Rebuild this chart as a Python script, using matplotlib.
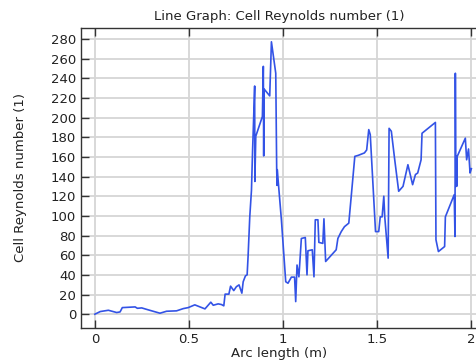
import matplotlib.pyplot as plt
import numpy as np

# arc length (m) and cell Reynolds number along the cut line
arc = [0.0, 0.029, 0.072, 0.116, 0.134, 0.146, 0.214, 0.226, 0.249, 0.284,
       0.346, 0.381, 0.434, 0.470, 0.496, 0.531, 0.585, 0.616, 0.629, 0.655,
       0.673, 0.685, 0.692, 0.712, 0.721, 0.738, 0.752, 0.766, 0.781, 0.788,
       0.800, 0.809, 0.814, 0.823, 0.832, 0.838, 0.841, 0.849, 0.850, 0.855,
       0.890, 0.895, 0.897, 0.899, 0.929, 0.938, 0.961, 0.966, 0.968, 0.969,
       0.991, 1.014, 1.026, 1.044, 1.061, 1.067, 1.074, 1.084, 1.097, 1.118,
       1.127, 1.132, 1.155, 1.164, 1.171, 1.185, 1.190, 1.211, 1.217, 1.226,
       1.282, 1.291, 1.309, 1.326, 1.349, 1.362, 1.381, 1.399, 1.432, 1.444,
       1.455, 1.463, 1.491, 1.508, 1.516, 1.526, 1.535, 1.540, 1.558, 1.563,
       1.575, 1.593, 1.614, 1.637, 1.663, 1.688, 1.703, 1.715, 1.733, 1.738,
       1.809, 1.812, 1.825, 1.858, 1.862, 1.909, 1.913, 1.915, 1.918, 1.921,
       1.922, 1.924, 1.968, 1.975, 1.985, 1.993, 2.0]
re_cell = [0.0, 2.7, 4.0, 1.7, 2.3, 6.7, 7.4, 6.0, 6.4, 4.4,
           1.0, 3.0, 3.4, 5.7, 6.7, 9.5, 5.4, 12.2, 9.1, 10.5,
           9.8, 8.5, 20.4, 20.4, 28.5, 24.0, 28.0, 29.8, 21.4, 33.0,
           39.0, 40.0, 58.6, 99.0, 126.0, 167.0, 184.0, 232.0, 135.0, 181.0,
           201.0, 252.0, 161.0, 229.0, 222.0, 277.0, 245.0, 147.0, 131.0, 147.0,
           96.0, 33.0, 31.5, 37.7, 37.7, 12.8, 50.0, 38.0, 77.0, 78.0,
           40.0, 64.5, 65.5, 38.0, 96.0, 96.0, 73.0, 72.0, 97.0, 53.6,
           65.5, 77.0, 84.0, 89.0, 92.6, 120.0, 160.5, 161.5, 164.0, 167.0,
           187.7, 182.6, 84.0, 84.0, 99.0, 99.0, 120.0, 99.0, 57.0, 189.0,
           186.0, 157.0, 125.0, 130.0, 152.0, 131.7, 142.0, 143.6, 157.0, 184.0,
           195.0, 75.7, 63.7, 68.8, 99.0, 121.5, 79.0, 245.0, 130.0, 160.5,
           130.0, 160.0, 179.0, 157.0, 168.0, 143.6, 148.0]

plt.rcParams['font.family'] = 'DejaVu Sans'
plt.rcParams['font.size'] = 9.5

fig = plt.figure(figsize=(4.77, 3.64), dpi=100)
ax = fig.add_axes([0.17, 0.099, 0.83, 0.824])

ax.plot(arc, re_cell, color='#3353e6', linewidth=1.2, zorder=3)

ax.set_xlim(-0.073, 2.03)
ax.set_ylim(-14, 291)
ax.set_xticks(np.arange(0, 2.01, 0.5))
ax.set_xticklabels(['0', '0.5', '1', '1.5', '2'])
ax.set_yticks(np.arange(0, 281, 20))

ax.grid(True, color='#d6d6d6', linewidth=1.3)
ax.set_axisbelow(True)
ax.tick_params(direction='in', length=6, width=1.0, top=True, right=False,
               color='#333333', labelcolor='#222222')
for side in ['left', 'bottom', 'top']:
    ax.spines[side].set_color('#333333')
    ax.spines[side].set_linewidth(1.0)
ax.spines['right'].set_visible(False)

ax.set_title('Line Graph: Cell Reynolds number (1)', fontsize=9.5, pad=6, color='#222222')
ax.set_xlabel('Arc length (m)', fontsize=9.5, labelpad=1, color='#222222')
ax.set_ylabel('Cell Reynolds number (1)', fontsize=9.5, labelpad=17, color='#222222')

fig.savefig('out.png', dpi=100)
